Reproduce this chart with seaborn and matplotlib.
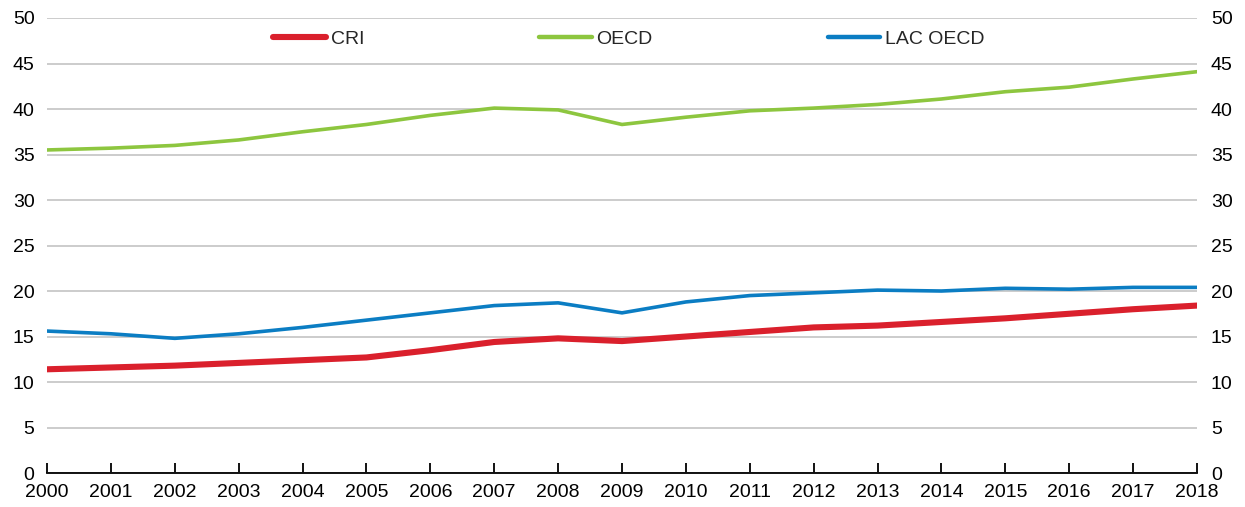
import matplotlib
matplotlib.use("Agg")
import matplotlib.pyplot as plt
import numpy as np
import pandas as pd
import seaborn as sns

years = list(range(2000, 2019))
cri = [11.4, 11.6, 11.8, 12.1, 12.4, 12.7, 13.5, 14.4, 14.8, 14.5,
       15.0, 15.5, 16.0, 16.2, 16.6, 17.0, 17.5, 18.0, 18.4]
oecd = [35.5, 35.7, 36.0, 36.6, 37.5, 38.3, 39.3, 40.1, 39.9, 38.3,
        39.1, 39.8, 40.1, 40.5, 41.1, 41.9, 42.4, 43.3, 44.1]
lac_oecd = [15.6, 15.3, 14.8, 15.3, 16.0, 16.8, 17.6, 18.4, 18.7, 17.6,
            18.8, 19.5, 19.8, 20.1, 20.0, 20.3, 20.2, 20.4, 20.4]

series = ["CRI", "OECD", "LAC OECD"]
colors = {"CRI": "#DA202C", "OECD": "#8DC63F", "LAC OECD": "#0B7DC3"}
widths = {"CRI": 4.4, "OECD": 2.6, "LAC OECD": 2.6}

df = pd.DataFrame({"year": years, "CRI": cri, "OECD": oecd, "LAC OECD": lac_oecd})
long = df.melt(id_vars="year", var_name="series", value_name="value")

sns.set_style("white")
plt.rcParams["font.family"] = ["Liberation Sans", "DejaVu Sans"]

fig = plt.figure(figsize=(12.45, 5.07), dpi=100)
ax = fig.add_axes([0.0378, 0.067, 0.9236, 0.8975])

sns.lineplot(data=long, x="year", y="value", hue="series", hue_order=series,
             palette=colors, ax=ax, legend=False)
for line, s in zip(ax.get_lines(), series):
    line.set_linewidth(widths[s])
    line.set_solid_capstyle("round")

ax.set_xlim(2000, 2018)
ax.set_ylim(0, 50)
ax.set_yticks(np.arange(0, 51, 5))
ax.set_xticks(years)
ax.set_xticklabels([str(y) for y in years])
ax.yaxis.grid(True, color="#c8c8c8", linewidth=1.3)
ax.set_axisbelow(True)
ax.set_xlabel("")
ax.set_ylabel("")

for side in ["left", "right", "top"]:
    ax.spines[side].set_visible(False)
ax.spines["bottom"].set_color("black")
ax.spines["bottom"].set_linewidth(1.3)

ax.tick_params(axis="x", bottom=True, direction="in", length=7, width=1.3,
               color="black", labelsize=14, pad=8, labelcolor="black")
ax.tick_params(axis="y", left=False, length=0, labelsize=14, pad=9,
               labelleft=True, labelright=False, labelcolor="black")

ax2 = ax.twinx()
ax2.set_ylim(ax.get_ylim())
ax2.set_yticks(np.arange(0, 51, 5))
for side in ["left", "right", "top", "bottom"]:
    ax2.spines[side].set_visible(False)
ax2.tick_params(axis="y", right=False, length=0, labelsize=14, pad=10,
                labelcolor="black")

handles = [plt.Line2D([], [], color=colors[s], linewidth=widths[s] if s == "CRI" else 3.2,
                      solid_capstyle="round") for s in series]
ax.legend(handles, series, loc="center", bbox_to_anchor=(0.506, 0.954), ncol=3,
          frameon=False, fontsize=14, handlelength=2.7, handletextpad=0.25,
          columnspacing=9.0)

fig.savefig("out.png", dpi=100)
